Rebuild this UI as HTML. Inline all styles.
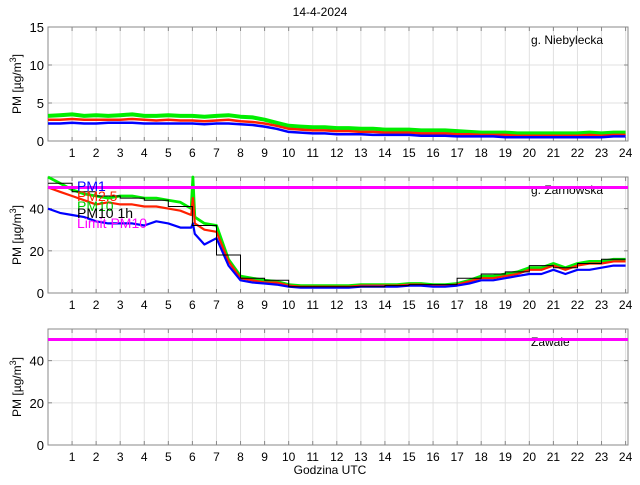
<!DOCTYPE html>
<html><head><meta charset="utf-8"><style>
body{margin:0;background:#fff;width:640px;height:480px;overflow:hidden}
text{font-family:"Liberation Sans",sans-serif}
</style></head><body>
<svg id="chart" width="640" height="480" xmlns="http://www.w3.org/2000/svg">
<text x="320" y="16" text-anchor="middle" font-size="12">14-4-2024</text>
<text x="330" y="474" text-anchor="middle" font-size="12">Godzina UTC</text>
</svg>
<script>
// half-hour samples 0..24
const hours = Array.from({length:49},(_,i)=>i/2);
const zarHours = [0,0.5,1,1.5,2,2.5,3,3.5,4,4.5,5,5.5,5.95,6.02,6.1,6.5,7,7.5,8,8.5,9,9.5,10,10.5,11,11.5,12,12.5,13,13.5,14,14.5,15,15.5,16,16.5,17,17.5,18,18.5,19,19.5,20,20.5,21,21.5,22,22.5,23,23.5,24];
const niebPM10 = [3.3,3.4,3.5,3.3,3.4,3.3,3.4,3.5,3.3,3.3,3.4,3.3,3.3,3.2,3.3,3.4,3.2,3.1,2.8,2.4,2.0,1.9,1.8,1.8,1.7,1.7,1.6,1.6,1.5,1.5,1.5,1.4,1.4,1.4,1.3,1.2,1.1,1.1,1.1,1.0,1.0,1.0,1.0,1.0,1.0,1.1,1.0,1.1,1.1];
const niebPM25 = [2.8,2.8,2.9,2.8,2.8,2.8,2.8,2.9,2.8,2.7,2.8,2.7,2.7,2.6,2.7,2.8,2.6,2.5,2.3,2.0,1.6,1.5,1.4,1.4,1.3,1.3,1.2,1.2,1.1,1.1,1.1,1.0,1.0,1.0,0.9,0.9,0.8,0.8,0.8,0.7,0.7,0.7,0.7,0.7,0.7,0.8,0.7,0.8,0.8];
const niebPM1 = [2.3,2.3,2.4,2.3,2.3,2.4,2.4,2.4,2.3,2.3,2.3,2.3,2.3,2.2,2.3,2.3,2.2,2.1,1.9,1.6,1.2,1.1,1.0,1.0,0.9,0.9,0.9,0.8,0.8,0.8,0.8,0.7,0.7,0.7,0.6,0.6,0.6,0.6,0.5,0.5,0.5,0.5,0.5,0.5,0.5,0.5,0.5,0.6,0.6];
const zarPM10 = [55,52,49,47,46,45,46,46,45,45,44,43,40,55,36,33,32,16,8,7,6,5.5,4,3.5,3.5,3.5,3.5,3.5,4,4,4,4,4.5,4.5,4,4,4.5,6,8,8,9,10,12,12,14,12,14,15,15,16,16];
const zarPM25 = [50,48,46,44,42,43,42,42,41,41,40,39,37,45,33,30,29,15,7,6,5,5,3.5,3,3,3,3,3,3.5,3.5,3.5,3.5,4,4,3.5,3.5,4,5.5,7,7,8,9,11,11,13,11,13,14,14,15,15];
const zarPM1 = [40,38,37,36,34,33,33,33,32,34,33,31,31,33,28,23,26,13,6,5,4.5,4,3,2.5,2.5,2.5,2.5,2.5,3,3,3,3,3.5,3.5,3,3,3.5,4.5,6,6,7,8,9,9,11,9,11,11,12,13,13];
const hourly = [52,48,46,45,44,41,32,18,7,6,3,3,3,3,3.5,4,4,7,9,10,13,12,14,16];
const limitPM10 = 50;
const stations = ["g. Niebylecka","g. Zarnowska","Zawale"];
const yTicks1 = [0,5,10,15], yTicks2 = [0,20,40];

const svg = document.getElementById('chart');
const NS = "http://www.w3.org/2000/svg";
function mk(tag, attrs, parent){const e=document.createElementNS(NS,tag);for(const k in attrs)e.setAttribute(k,attrs[k]);(parent||svg).appendChild(e);return e;}
const X0=48, X1=628, XMAX=24.1;
const xs = h => X0 + h/XMAX*(X1-X0);
const panels = [{top:27,bot:141,ymax:15,ticks:yTicks1,name:'panel-niebylecka'},{top:177,bot:293,ymax:55,ticks:yTicks2,name:'panel-zarnowska'},{top:329,bot:445,ymax:55,ticks:yTicks2,name:'panel-zawale'}];

panels.forEach((p,pi)=>{
  const g = mk('g',{});
  
  
  p.ys = v => p.bot - v/p.ymax*(p.bot-p.top);
  for(let h=1;h<=24;h++){
    const l=mk('line',{x1:xs(h),x2:xs(h),y1:p.top,y2:p.bot,stroke:'#e0e0e0','stroke-width':1},g);
    
    
    mk('line',{x1:xs(h),x2:xs(h),y1:p.bot,y2:p.bot-4,stroke:'#888'},g);
    mk('line',{x1:xs(h),x2:xs(h),y1:p.top,y2:p.top+4,stroke:'#888'},g);
    const t=mk('text',{x:xs(h),y:p.bot+16,'text-anchor':'middle','font-size':12},g);
    t.textContent=h;
    
    
  }
  p.ticks.forEach(v=>{
    if(v>0){const l=mk('line',{x1:X0,x2:X1,y1:p.ys(v),y2:p.ys(v),stroke:'#e0e0e0'},g);
      
      }
    mk('line',{x1:X0,x2:X0+4,y1:p.ys(v),y2:p.ys(v),stroke:'#888'},g);
    mk('line',{x1:X1,x2:X1-4,y1:p.ys(v),y2:p.ys(v),stroke:'#888'},g);
    const t=mk('text',{x:X0-4,y:p.ys(v)+5,'text-anchor':'end','font-size':13},g);
    t.textContent=v;
    
    
  });
  const fr=mk('rect',{x:X0,y:p.top,width:X1-X0,height:p.bot-p.top,fill:'none',stroke:'#888'},g);
  
  
  const cy=(p.top+p.bot)/2;
  const yl=mk('text',{x:0,y:0,transform:`translate(21,${cy}) rotate(-90)`,'text-anchor':'middle','font-size':12},g);
  yl.innerHTML='PM [µg/m<tspan dy="-5" font-size="9">3</tspan><tspan dy="5">]</tspan>';
  
  
  const st=mk('text',{x:531,y:p.top+17,'font-size':12},g);
  st.textContent=stations[pi];
  
  
});

function series(p, hrs, vals, color, w, name){
  const d = vals.map((v,i)=>(i?'L':'M')+xs(hrs[i]).toFixed(1)+','+p.ys(Math.min(v,p.ymax)).toFixed(1)).join('');
  const e=mk('path',{d,fill:'none',stroke:color,'stroke-width':w,'stroke-linejoin':'round'});
  
  
}
const P1=panels[0],P2=panels[1],P3=panels[2];
series(P1,hours,niebPM10,'#00ee00',4,'niebylecka-pm10-line');
series(P1,hours,niebPM25,'#ff2000',2.5,'niebylecka-pm25-line');
series(P1,hours,niebPM1,'#0000ff',2.5,'niebylecka-pm1-line');
series(P2,zarHours,zarPM10,'#00ee00',2.8,'zarnowska-pm10-line');
series(P2,zarHours,zarPM25,'#ff2000',2.2,'zarnowska-pm25-line');
series(P2,zarHours,zarPM1,'#0000ff',2.2,'zarnowska-pm1-line');
let d='';
hourly.forEach((v,i)=>{d+=(i?'L':'M')+xs(i).toFixed(1)+','+P2.ys(v).toFixed(1)+'L'+xs(i+1).toFixed(1)+','+P2.ys(v).toFixed(1);});
const hp=mk('path',{d,fill:'none',stroke:'#000','stroke-width':1});


[P2,P3].forEach((p,i)=>{
  const l=mk('line',{x1:X0,x2:X1,y1:p.ys(limitPM10),y2:p.ys(limitPM10),stroke:'#ff00ff','stroke-width':3});
  
  
});
const legend=[['PM1','#0000ff',191],['PM2.5','#ff2000',201],['PM10','#00cc00',211],['PM10 1h','#000',218],['Limit PM10','#ff00ff',228]];
legend.forEach(([t,c,y])=>{
  const e=mk('text',{x:77,y,fill:c,'font-size':14});
  e.textContent=t;
  
  
});
</script>
</body></html>
